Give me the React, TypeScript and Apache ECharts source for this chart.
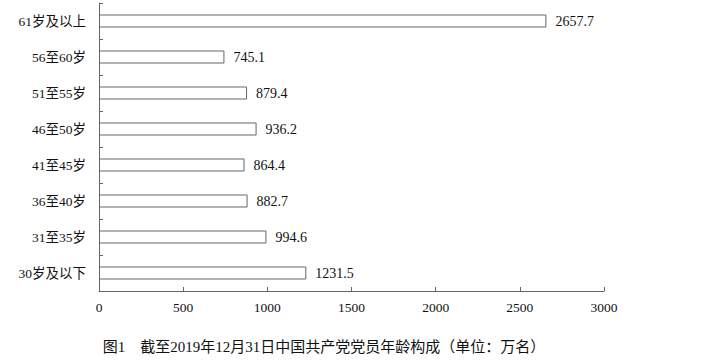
import React, { useEffect, useRef } from "react";
import * as echarts from "echarts";

const categories = ["30岁及以下", "31至35岁", "36至40岁", "41至45岁", "46至50岁", "51至55岁", "56至60岁", "61岁及以上"];
const values = [1231.5, 994.6, 882.7, 864.4, 936.2, 879.4, 745.1, 2657.7];
const xTicks = { min: 0, max: 3000, interval: 500 };
const titleText = "图1　截至2019年12月31日中国共产党党员年龄构成（单位：万名）";

const FONT = '"Liberation Serif", "Noto Sans CJK SC", serif';

export default function App() {
  const ref = useRef<HTMLDivElement>(null);
  useEffect(() => {
    document.body.style.margin = "0";
    const chart = echarts.init(ref.current!, null, { renderer: "svg" });
    chart.setOption({
      animation: false,
      backgroundColor: "#ffffff",
      title: {
        text: titleText,
        left: 319,
        textAlign: "center",
        top: 334,
        textStyle: { fontFamily: FONT, fontSize: 15, fontWeight: "normal", color: "#111" },
      },
      grid: { left: 99, right: 105, top: 3, bottom: 71 },
      xAxis: {
        type: "value",
        min: xTicks.min,
        max: xTicks.max,
        interval: xTicks.interval,
        splitLine: { show: false },
        axisLine: { show: true, lineStyle: { color: "#666", width: 1 } },
        axisTick: { show: true, inside: true, length: 4, lineStyle: { color: "#666" } },
        axisLabel: {
          fontFamily: FONT,
          fontSize: 13.5,
          color: "#111",
          margin: 10,
          formatter: (v: number) => String(v),
        },
      },
      yAxis: {
        type: "category",
        data: categories,
        axisLine: { show: true, lineStyle: { color: "#666", width: 1 } },
        axisTick: { show: true, inside: true, length: 4, lineStyle: { color: "#666" } },
        axisLabel: { fontFamily: FONT, fontSize: 13.5, color: "#111", margin: 13 },
      },
      series: [
        {
          type: "bar",
          data: values,
          barWidth: 13,
          itemStyle: { color: "#ffffff", borderColor: "#666", borderWidth: 1 },
          label: {
            show: true,
            position: "right",
            distance: 9,
            fontFamily: FONT,
            fontSize: 14,
            color: "#111",
            formatter: (p: any) => p.value.toFixed(1),
          },
        },
      ],
    });
    return () => chart.dispose();
  }, []);
  return <div ref={ref} style={{ width: 709, height: 362 }} />;
}
